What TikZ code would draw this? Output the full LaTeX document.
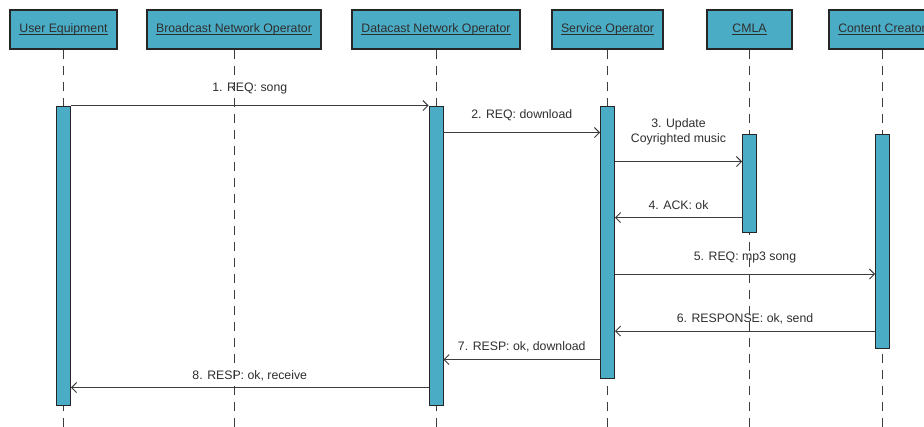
\documentclass[tikz,border=0pt]{standalone}
\usepackage{fontspec}
\setmainfont{Liberation Sans}
\usetikzlibrary{arrows.meta}
\definecolor{lanefill}{HTML}{4BACC6}
\definecolor{inkline}{HTML}{3C3C3C}
\definecolor{inktext}{HTML}{2E2E2E}
% underline drawn just under the baseline, through the descenders
\newcommand\hdrline[1]{\setbox0=\hbox{#1}\rlap{\rule[-1.7pt]{\wd0}{0.75pt}}\box0}

\begin{document}
\begin{tikzpicture}[x=1pt,y=-1pt,
  every node/.style={font=\fontsize{12.3}{14.5}\selectfont, text=inktext},
  header/.style={draw=black!85, line width=1.2pt, fill=lanefill, minimum height=39pt, inner sep=0pt},
  bar/.style={draw=black!85, line width=0.9pt, fill=lanefill, minimum width=14pt, inner sep=0pt},
  lifeline/.style={draw=inkline, line width=0.9pt, dash pattern=on 9pt off 7pt},
  msg/.style={draw=inkline, line width=0.9pt, -{Straight Barb[length=5pt,width=10pt]}},
  lbl/.style={midway, inner sep=0pt, text height=8.8pt, text depth=2.6pt, align=center},
]
\clip (0,0) rectangle (924,427);
\coordinate (bottomEdge) at (0,430);

% participants
\node[header, minimum width=107pt] (ue)   at (63.5,29.5)  {\hdrline{User Equipment}};
\node[header, minimum width=174pt] (bno)  at (234,29.5)   {\hdrline{Broadcast Network Operator}};
\node[header, minimum width=168pt] (dno)  at (436,29.5)   {\hdrline{Datacast Network Operator}};
\node[header, minimum width=111pt] (so)   at (607.5,29.5) {\hdrline{Service Operator}};
\node[header, minimum width=85pt]  (cmla) at (749.5,29.5) {\hdrline{CMLA}};
\node[header, minimum width=106pt] (cc)   at (882,29.5)   {\hdrline{Content Creator}};

% lifelines
\foreach \p in {ue,bno,dno,so,cmla,cc}
  \draw[lifeline] (\p.south) -- (\p.south |- bottomEdge);

% activation bars
\node[bar, minimum height=299pt] (ueBar)   at (63.5,255.5) {};
\node[bar, minimum height=299pt] (dnoBar)  at (436,255.5)  {};
\node[bar, minimum height=272pt] (soBar)   at (607.5,242)  {};
\node[bar, minimum height=98pt]  (cmlaBar) at (749.5,183)  {};
\node[bar, minimum height=214pt] (ccBar)   at (882.5,241)  {};

% messages
\draw[msg] (ueBar.north east) -- (dnoBar.north west)
  node[lbl, yshift=17pt] {1. REQ: song};
\draw[msg] ([yshift=-27pt]dnoBar.north east) -- ([yshift=-27pt]soBar.north west)
  node[lbl, yshift=17pt] {2. REQ: download};
\draw[msg] ([yshift=-56pt]soBar.north east) -- ([yshift=-28pt]cmlaBar.north west)
  node[lbl, yshift=22.5pt] {3. Update\\Coyrighted music};
\draw[msg] ([yshift=-84pt]cmlaBar.north west) -- ([yshift=-112pt]soBar.north east)
  node[lbl, yshift=11pt] {4. ACK: ok};
\draw[msg] ([yshift=-168.5pt]soBar.north east) -- ([yshift=-140.5pt]ccBar.north west)
  node[lbl, yshift=17pt] {5. REQ: mp3 song};
\draw[msg] ([yshift=-197.5pt]ccBar.north west) -- ([yshift=-225.5pt]soBar.north east)
  node[lbl, yshift=11.5pt] {6. RESPONSE: ok, send};
\draw[msg] ([yshift=-254pt]soBar.north west) -- ([yshift=-254pt]dnoBar.north east)
  node[lbl, yshift=12pt] {7. RESP: ok, download};
\draw[msg] ([yshift=-282pt]dnoBar.north west) -- ([yshift=-282pt]ueBar.north east)
  node[lbl, yshift=11pt] {8. RESP: ok, receive};
\end{tikzpicture}
\end{document}
